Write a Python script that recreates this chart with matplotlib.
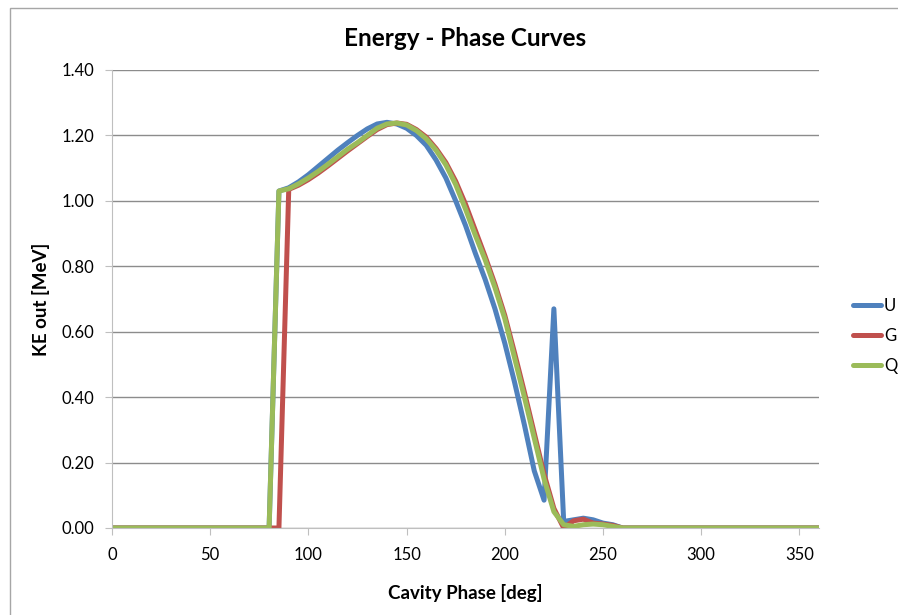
import matplotlib
matplotlib.use("Agg")
import matplotlib.pyplot as plt
from matplotlib.patches import Rectangle

plt.rcParams["font.family"] = ["Lato", "DejaVu Sans"]

# cavity phase in degrees, 5 deg steps from 0 to 360
phase = list(range(0, 365, 5))

# values; zero outside 80..260 deg
zeros_head = [0.0] * 16          # 0 .. 75 deg
zeros_tail = [0.0] * 20          # 265 .. 360 deg

# 80 .. 260 deg
ke_u = [0.0, 1.03, 1.04, 1.058, 1.08, 1.105, 1.13, 1.155, 1.178, 1.20, 1.22,
        1.235, 1.24, 1.235, 1.222, 1.20, 1.17, 1.125, 1.07, 1.00, 0.925, 0.84,
        0.76, 0.67, 0.565, 0.445, 0.315, 0.175, 0.085, 0.67, 0.02, 0.025, 0.03,
        0.025, 0.015, 0.01, 0.0]
ke_g = [0.0, 0.0, 1.035, 1.048, 1.065, 1.085, 1.107, 1.13, 1.153, 1.175, 1.197,
        1.218, 1.233, 1.238, 1.234, 1.218, 1.195, 1.16, 1.117, 1.06, 0.99, 0.91,
        0.83, 0.745, 0.65, 0.535, 0.415, 0.29, 0.165, 0.06, 0.0, 0.022, 0.027,
        0.015, 0.012, 0.008, 0.0]
ke_q = [0.0, 1.03, 1.037, 1.052, 1.07, 1.09, 1.112, 1.135, 1.158, 1.178, 1.20,
        1.222, 1.235, 1.238, 1.232, 1.215, 1.19, 1.155, 1.11, 1.05, 0.975, 0.895,
        0.82, 0.735, 0.64, 0.52, 0.40, 0.275, 0.15, 0.05, 0.01, 0.005, 0.01,
        0.012, 0.01, 0.005, 0.0]

series = {
    "U": zeros_head + ke_u + zeros_tail,
    "G": zeros_head + ke_g + zeros_tail,
    "Q": zeros_head + ke_q + zeros_tail,
}
colors = {"U": "#4F81BD", "G": "#C0504D", "Q": "#9BBB59"}

fig = plt.figure(figsize=(8.98, 6.15), dpi=100)
ax = fig.add_axes([112 / 898, 1 - 528 / 615, (819 - 112) / 898, (528 - 70) / 615])

# chart area border like excel
fig.patches.append(Rectangle((10 / 898, -0.1), 1.2, 1 - 8 / 615 + 0.1,
                             transform=fig.transFigure, fill=False,
                             edgecolor="#a6a6a6", linewidth=1))

for name in ["U", "G", "Q"]:
    ax.plot(phase, series[name], color=colors[name], linewidth=3.6,
            solid_joinstyle="round", solid_capstyle="round", label=name)

ax.set_xlim(0, 360)
ax.set_ylim(0, 1.4)
ax.set_xticks(range(0, 400, 50))
ax.set_yticks([i * 0.2 for i in range(8)])
ax.set_yticklabels(["%.2f" % (i * 0.2) for i in range(8)])
ax.grid(axis="y", color="#8c8c8c", linewidth=1)
ax.set_axisbelow(True)

for s in ["top", "right"]:
    ax.spines[s].set_visible(False)
for s in ["left", "bottom"]:
    ax.spines[s].set_color("#bfbfbf")
ax.tick_params(axis="both", colors="#bfbfbf", labelcolor="black",
               labelsize=12, length=5, direction="out")
ax.tick_params(axis="x", pad=9)
ax.tick_params(axis="y", pad=8)

ax.set_title("Energy - Phase Curves", fontsize=17.5, fontweight="bold", pad=17)
ax.set_xlabel("Cavity Phase [deg]", fontsize=13.5, fontweight="bold", labelpad=15)
ax.set_ylabel("KE out [MeV]", fontsize=13.5, fontweight="bold", labelpad=8)

ax.legend(loc="center left", bbox_to_anchor=(1.048, 0.419), frameon=False,
          borderaxespad=0, borderpad=0,
          fontsize=12, handlelength=1.7, handletextpad=0.15, labelspacing=0.85)

fig.savefig("out.png", dpi=100)
